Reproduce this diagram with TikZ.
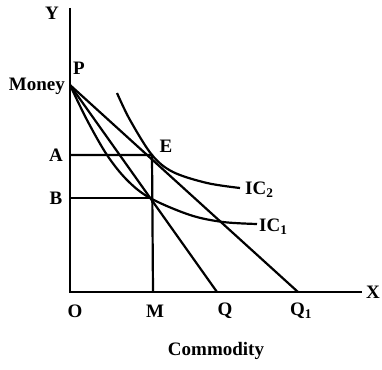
\documentclass[tikz,border=0pt]{standalone}
\usepackage{fontspec}
\setmainfont{Liberation Serif}
\begin{document}
\begin{tikzpicture}[x=1pt,y=-1pt,
  ln/.style={line width=2.2pt},
  lbl/.style={font=\fontsize{19}{19}\selectfont\bfseries, inner sep=0pt}]
\useasboundingbox (0,0) rectangle (382,369);
\coordinate (O) at (70,292);
\coordinate (Ytop) at (70,8);
\coordinate (Xend) at (362,292);
\coordinate (P) at (70,85);
\coordinate (A) at (70,155);
\coordinate (B) at (70,198);
\coordinate (E) at (152,155);
\coordinate (F) at (150,198);
\coordinate (M) at (153,292);
\coordinate (Q) at (217,292);
\coordinate (Q1) at (298,292);
% axes
\draw[ln] (Ytop) -- (O) -- (Xend);
% box lines
\draw[ln] (A) -- (E) -- (M);
\draw[ln] (B) -- (F);
% price lines
\draw[ln] (P) -- (Q);
\draw[ln] (P) -- (Q1);
% indifference curves
\draw[ln] plot[smooth,tension=0.55] coordinates {(117,93) (130,120) (E) (173,172) (207,183) (240,188)};
\draw[ln] plot[smooth,tension=0.55] coordinates {(P) (87,120) (107,155) (127,180) (F) (190,215) (223,222) (257,224)};
% labels
\node[lbl] (lY) at (52,13) {Y};
\node[lbl] (lX) at (373,292) {X};
\node[lbl,anchor=east] (lMoney) at (65,86) {Money};
\node[lbl] (lP) at (79,68) {P};
\node[lbl] (lA) at (56,155) {A};
\node[lbl] (lB) at (56,198) {B};
\node[lbl] (lE) at (166,146) {E};
\node[lbl] (lO) at (75,311) {O};
\node[lbl] (lM) at (155,311) {M};
\node[lbl] (lQ) at (225,311) {Q};
\node[lbl] (lQ1) at (301,311) {Q\textsubscript{1}};
\node[lbl,anchor=west] (lIC2) at (245,190) {IC\textsubscript{2}};
\node[lbl,anchor=west] (lIC1) at (259,227) {IC\textsubscript{1}};
\node[lbl] (lC) at (216,351) {Commodity};
\end{tikzpicture}
\end{document}
